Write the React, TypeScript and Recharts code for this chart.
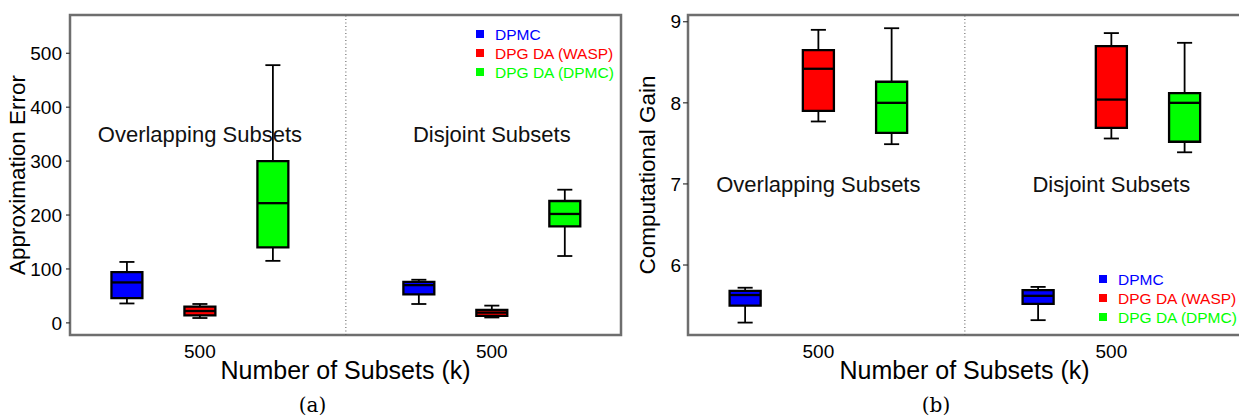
import {
  ComposedChart,
  XAxis,
  YAxis,
  Scatter,
  ReferenceArea,
  ReferenceLine,
  ReferenceDot,
  Legend,
  Label,
} from "recharts";

const GROUPS = ["Overlapping Subsets", "Disjoint Subsets"];
const METHODS = ["DPMC", "DPG DA (WASP)", "DPG DA (DPMC)"];
const COLORS = ["#0000FF", "#FF0000", "#00FF00"];
const X_TICK_LABEL = "500";

// five-number summaries [min, q1, median, q3, max]; first overlapping, then disjoint
const ERROR_DPMC = [[36, 46, 75, 94, 113], [35, 53, 70, 76, 80]];
const ERROR_WASP = [[9, 14, 22, 30, 35], [10, 13, 19, 24, 32]];
const ERROR_DA_DPMC = [[115, 140, 222, 300, 478], [124, 179, 202, 226, 247]];

const GAIN_DPMC = [[5.29, 5.5, 5.63, 5.68, 5.72], [5.32, 5.52, 5.62, 5.69, 5.73]];
const GAIN_WASP = [[7.77, 7.9, 8.42, 8.65, 8.9], [7.56, 7.69, 8.04, 8.7, 8.86]];
const GAIN_DA_DPMC = [[7.49, 7.63, 8.0, 8.26, 8.92], [7.39, 7.52, 8.0, 8.12, 8.74]];

const ERROR_TICKS = [0, 100, 200, 300, 400, 500];
const GAIN_TICKS = [6, 7, 8, 9];

// layout bits
const X_DOMAIN: [number, number] = [0.22, 7.77];
const BOX_HALF = 0.212;
const CAP_HALF = 0.103;
const FRAME = "#6e6e6e";

const xPos = (group: number, method: number) => group * 4 + method + 1;

const LegendBox = () => (
  <div style={{ fontSize: 15.5, lineHeight: "19px", whiteSpace: "nowrap" }}>
    {METHODS.map((name, i) => (
      <div key={name} style={{ display: "flex", alignItems: "center", color: COLORS[i] }}>
        <span style={{ display: "inline-block", width: 8, height: 8, background: COLORS[i], marginRight: 11 }} />
        {name}
      </div>
    ))}
  </div>
);

interface PanelProps {
  series: number[][][];
  yDomain: [number, number];
  yTicks: number[];
  yTitle: string;
  titleX: number;
  labelY: number;
  width: number;
  yAxisWidth: number;
  marginRight: number;
  tickSize: number;
  tickMargin: number;
  legendPos: { left: number; top: number };
}

const Panel = ({
  series, yDomain, yTicks, yTitle, titleX, labelY, width, yAxisWidth, marginRight, tickSize, tickMargin, legendPos,
}: PanelProps) => {
  const medians = series.flatMap((stats, m) => stats.map((s, g) => ({ x: xPos(g, m), y: s[2] })));

  const marks = series.flatMap((stats, m) =>
    stats.flatMap((s, g) => {
      const x = xPos(g, m);
      const [lo, q1, med, q3, hi] = s;
      const k = `${m}-${g}`;
      return [
        <ReferenceLine key={`wu${k}`} segment={[{ x, y: q3 }, { x, y: hi }]} stroke="#000" strokeWidth={1.8} ifOverflow="visible" />,
        <ReferenceLine key={`wl${k}`} segment={[{ x, y: lo }, { x, y: q1 }]} stroke="#000" strokeWidth={1.8} ifOverflow="visible" />,
        <ReferenceLine key={`cu${k}`} segment={[{ x: x - CAP_HALF, y: hi }, { x: x + CAP_HALF, y: hi }]} stroke="#000" strokeWidth={1.8} ifOverflow="visible" />,
        <ReferenceLine key={`cl${k}`} segment={[{ x: x - CAP_HALF, y: lo }, { x: x + CAP_HALF, y: lo }]} stroke="#000" strokeWidth={1.8} ifOverflow="visible" />,
        <ReferenceArea key={`b${k}`} x1={x - BOX_HALF} x2={x + BOX_HALF} y1={q1} y2={q3} fill={COLORS[m]} fillOpacity={1} stroke="#000" strokeWidth={2.3} ifOverflow="visible" />,
        <ReferenceLine key={`m${k}`} segment={[{ x: x - BOX_HALF, y: med }, { x: x + BOX_HALF, y: med }]} stroke="#000" strokeWidth={2.3} ifOverflow="visible" />,
      ];
    })
  );

  return (
    <ComposedChart width={width} height={418} margin={{ top: 15, right: marginRight, bottom: 0, left: 0 }}>
      <XAxis
        dataKey="x"
        type="number"
        domain={X_DOMAIN}
        ticks={[2, 6]}
        tickFormatter={() => X_TICK_LABEL}
        axisLine={false}
        tickLine={false}
        tickSize={0}
        tickMargin={10}
        height={83}
        allowDataOverflow
        tick={{ fill: "#000", fontSize: 19 }}
        label={{ value: "Number of Subsets (k)", position: "insideBottom", offset: 39, fontSize: 25, fill: "#000" }}
      />
      <YAxis
        type="number"
        domain={yDomain}
        ticks={yTicks}
        width={yAxisWidth}
        axisLine={false}
        tickLine={{ stroke: "#333", strokeWidth: 1.2 }}
        tickSize={tickSize}
        tickMargin={tickMargin}
        allowDataOverflow
        tick={{ fill: "#000", fontSize: 19 }}
      >
        <Label
          content={(p: any) => {
            const vb = p.viewBox;
            const cy = vb.y + vb.height / 2;
            return (
              <text
                x={titleX}
                y={cy}
                transform={`rotate(-90 ${titleX} ${cy})`}
                textAnchor="middle"
                dominantBaseline="central"
                fontSize={22.5}
                fill="#000"
              >
                {yTitle}
              </text>
            );
          }}
        />
      </YAxis>
      <ReferenceArea
        x1={X_DOMAIN[0]}
        x2={X_DOMAIN[1]}
        y1={yDomain[0]}
        y2={yDomain[1]}
        fill="none"
        stroke={FRAME}
        strokeWidth={2.5}
        ifOverflow="visible"
      />
      <ReferenceLine x={4} stroke="#555" strokeDasharray="1 2.5" strokeWidth={1} />
      {GROUPS.map((name, g) => (
        <ReferenceDot
          key={name}
          x={g * 4 + 2}
          y={labelY}
          r={0}
          fill="none"
          stroke="none"
          label={{ value: name, position: "center", fontSize: 22, fill: "#111" }}
        />
      ))}
      {marks}
      <Scatter data={medians} dataKey="y" fill="none" legendType="none" isAnimationActive={false} />
      <Legend
        layout="vertical"
        align="center"
        verticalAlign="middle"
        content={() => <LegendBox />}
        wrapperStyle={{ left: legendPos.left, top: legendPos.top, width: "auto", height: "auto" }}
      />
    </ComposedChart>
  );
};

export default function App() {
  return (
    <div
      style={{
        position: "absolute",
        left: 0,
        top: 0,
        width: 1239,
        height: 418,
        overflow: "hidden",
        background: "#fff",
        fontFamily: "'Liberation Sans', Arial, sans-serif",
      }}
    >
      <div style={{ position: "absolute", left: 0, top: 0 }}>
        <Panel
          series={[ERROR_DPMC, ERROR_WASP, ERROR_DA_DPMC]}
          yDomain={[-22.5, 571]}
          yTicks={ERROR_TICKS}
          yTitle="Approximation Error"
          titleX={17}
          labelY={350}
          width={630}
          yAxisWidth={70}
          marginRight={9}
          tickSize={4}
          tickMargin={4}
          legendPos={{ left: 476, top: 24.5 }}
        />
      </div>
      <div style={{ position: "absolute", left: 620, top: 0 }}>
        <Panel
          series={[GAIN_DPMC, GAIN_WASP, GAIN_DA_DPMC]}
          yDomain={[5.137, 9.083]}
          yTicks={GAIN_TICKS}
          yTitle="Computational Gain"
          titleX={27}
          labelY={7}
          width={621}
          yAxisWidth={68}
          marginRight={0}
          tickSize={5}
          tickMargin={2}
          legendPos={{ left: 479, top: 269.5 }}
        />
      </div>
      <div style={{ position: "absolute", left: 282.5, width: 60, top: 394, textAlign: "center", fontFamily: "'DejaVu Serif', serif", fontSize: 20, lineHeight: "22px" }}>
        (a)
      </div>
      <div style={{ position: "absolute", left: 906, width: 60, top: 394, textAlign: "center", fontFamily: "'DejaVu Serif', serif", fontSize: 20, lineHeight: "22px" }}>
        (b)
      </div>
    </div>
  );
}
